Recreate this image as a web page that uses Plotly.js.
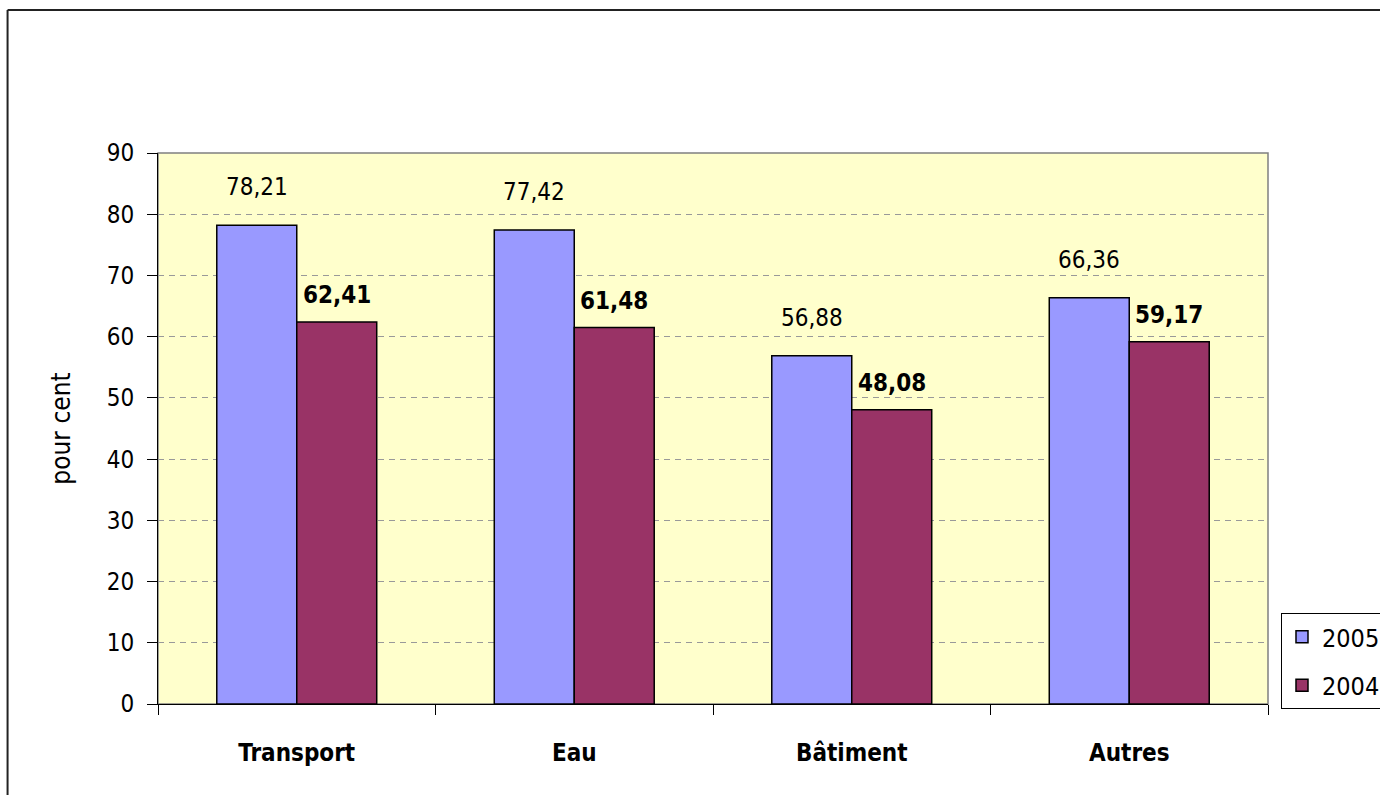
<!DOCTYPE html>
<html>
<head>
<meta charset="utf-8">
<script src="https://cdn.plot.ly/plotly-3.0.1.min.js"></script>
<style>
html,body{margin:0;padding:0;background:#fff;}
#chart{width:1380px;height:795px;}
</style>
</head>
<body>
<div id="chart"></div>
<script>
const categories = ["Transport", "Eau", "Bâtiment", "Autres"];
const values2005 = [78.21, 77.42, 56.88, 66.36];
const values2004 = [62.41, 61.48, 48.08, 59.17];
const labels2005 = ["78,21", "77,42", "56,88", "66,36"];
const labels2004 = ["62,41", "61,48", "48,08", "59,17"];
const yTicks = [0, 10, 20, 30, 40, 50, 60, 70, 80, 90];

const FONT = "'Liberation Sans Narrow', 'Arial Narrow', 'DejaVu Sans Condensed', sans-serif";

const traces = [
  {
    type: "bar", name: "2005", x: categories, y: values2005,
    marker: {color: "#9999FF", line: {color: "#000", width: 1.5}},
    legendgroup: "a", hoverinfo: "skip"
  },
  {
    type: "bar", name: "2004", x: categories, y: values2004,
    marker: {color: "#993366", line: {color: "#000", width: 1.5}},
    legendgroup: "b", hoverinfo: "skip"
  }
];

const annotations = [];
categories.forEach((c, i) => {
  annotations.push({x: c, y: values2005[i], xref: "x", yref: "y", text: labels2005[i],
    showarrow: false, xshift: -40, yshift: 38, yanchor: "middle",
    font: {family: FONT, size: 24, color: "#000"}});
  annotations.push({x: c, y: values2004[i], xref: "x", yref: "y", text: "<b>" + labels2004[i] + "</b>",
    showarrow: false, xshift: 40, yshift: 27, yanchor: "middle",
    font: {family: FONT, size: 24, color: "#000"}});
});

const W = 1380, H = 795, L = 157.5, R = 112, T = 153, B = 91;
const pw = W - L - R, ph = H - T - B;
const px = v => (v - L) / pw;
const py = v => (H - B - v) / ph;

const layout = {
  width: W, height: H,
  margin: {l: L, r: R, t: T, b: B, pad: 0, autoexpand: false},
  paper_bgcolor: "#fff",
  plot_bgcolor: "#FFFFCC",
  font: {family: FONT, size: 24, color: "#000"},
  barmode: "group", bargap: 0.4236, bargroupgap: 0,
  showlegend: true,
  legend: {
    x: px(1281), y: py(613), xanchor: "left", yanchor: "top",
    bgcolor: "#fff", bordercolor: "#000", borderwidth: 1,
    font: {family: FONT, size: 25, color: "#000"},
    traceorder: "grouped", tracegroupgap: 13
  },
  xaxis: {
    type: "category",
    tickson: "boundaries", ticks: "outside", ticklen: 10, tickcolor: "#000", tickwidth: 1,
    showline: true, linecolor: "#000", linewidth: 1,
    showgrid: false, zeroline: false,
    tickfont: {family: FONT, size: 24, color: "#000", weight: "bold"},
    ticklabelstandoff: 27,
    fixedrange: true
  },
  yaxis: {
    range: [0, 90], tickvals: yTicks, ticktext: yTicks.map(String),
    ticks: "outside", ticklen: 10, tickcolor: "#000", tickwidth: 1,
    showline: true, linecolor: "#000", linewidth: 1,
    showgrid: true, gridcolor: "#999999", griddash: "6px,5px", gridwidth: 1,
    zeroline: false,
    tickfont: {family: FONT, size: 24, color: "#000"},
    ticklabelstandoff: 8,
    title: {text: "pour cent", font: {family: FONT, size: 26, color: "#000"}, standoff: 28},
    fixedrange: true
  },
  annotations: annotations,
  shapes: [
    {type: "rect", xref: "paper", yref: "paper", x0: 0, x1: 1, y0: 0, y1: 1,
     line: {color: "#808080", width: 1.5}, layer: "below"},
    {type: "line", xref: "paper", yref: "paper", x0: px(7), x1: px(7), y0: py(10), y1: py(H + 20),
     line: {color: "#222", width: 2}},
    {type: "line", xref: "paper", yref: "paper", x0: px(7), x1: px(W + 20), y0: py(10), y1: py(10),
     line: {color: "#222", width: 2}}
  ]
};

Plotly.newPlot("chart", traces, layout, {displayModeBar: false, staticPlot: true});
</script>
</body>
</html>
